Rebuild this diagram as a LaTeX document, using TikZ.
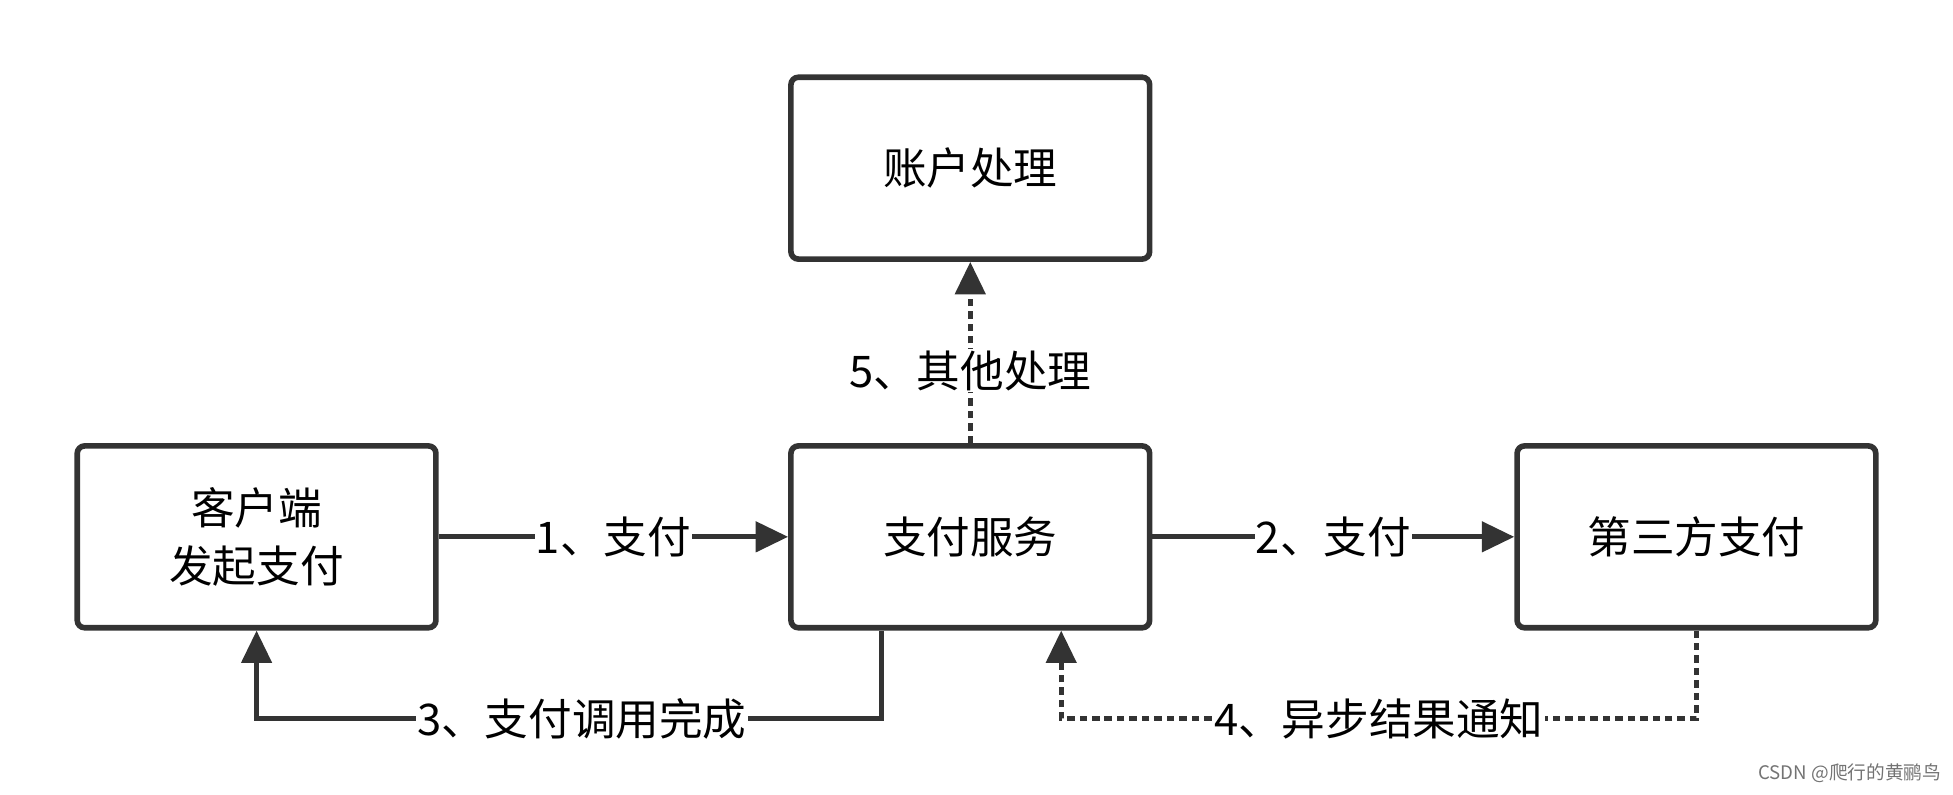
\documentclass[tikz,border=0pt]{standalone}
\usepackage{fontspec}
\newfontfamily\cjk{Noto Sans CJK SC}
\usetikzlibrary{arrows.meta}
\begin{document}
\begin{tikzpicture}[x=1pt,y=-1pt,
  box/.style={draw=black!80,line width=4.5pt,rounded corners=6pt,minimum width=288pt,minimum height=146pt,inner sep=0pt,align=center,font=\cjk\fontsize{35}{46}\selectfont},
  lbl/.style={fill=white,inner sep=1pt,font=\cjk\fontsize{35}{40}\selectfont},
  conn/.style={draw=black!80,line width=4pt,-{Triangle[length=26pt,width=24pt]}},
  dot/.style={dash pattern=on 6pt off 4pt}]
\useasboundingbox (0,0) rectangle (1568,638);
\node[box] (acc) at (779,135) {账户处理};
\node[box] (cli) at (206,431) {客户端\\发起支付};
\node[box] (pay) at (779,431) {支付服务};
\node[box] (tp) at (1362,431) {第三方支付};
\coordinate (c3a) at (708,577);
\coordinate (c3b) at (206,577);
\coordinate (c4a) at (1362,577);
\coordinate (c4b) at (852,577);
\draw[conn] (cli.east) -- node[lbl]{1、支付} (pay.west);
\draw[conn] (pay.east) -- node[lbl]{2、支付} (tp.west);
\draw[conn] (pay.south -| c3a) -- (c3a) -- node[lbl,pos=0.48]{3、支付调用完成} (c3b) -- (cli.south);
\draw[conn,dot] (tp.south) -- (c4a) -- node[lbl,pos=0.5]{4、异步结果通知} (c4b) -- (pay.south -| c4b);
\draw[conn,dot] (pay.north) -- node[lbl,pos=0.4]{5、其他处理} (acc.south);
\node[font=\cjk\fontsize{15}{16}\selectfont,text=black!55,anchor=south east] (wm) at (1562,632) {CSDN @爬行的黄鹂鸟};
\end{tikzpicture}
\end{document}
